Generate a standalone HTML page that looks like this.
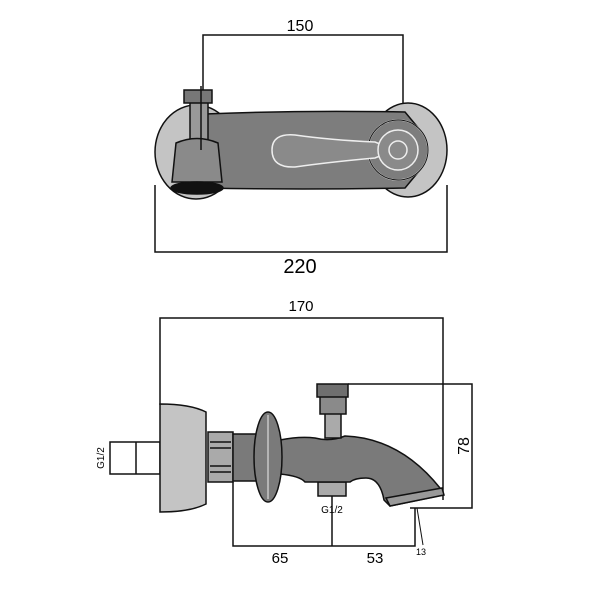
<!DOCTYPE html>
<html><head><style>body{margin:0;background:#fff}svg{display:block}</style></head><body>
<svg width="600" height="600" viewBox="0 0 600 600" xmlns="http://www.w3.org/2000/svg" font-family="Liberation Sans, sans-serif">
<g stroke="#111" stroke-width="1.5" fill="none">
<!-- top view dims -->
<polyline points="203,145 203,35 403,35 403,150"/>
<polyline points="155,185 155,252 447,252 447,185"/>
</g>
<text x="300" y="31" font-size="16" text-anchor="middle">150</text>
<text x="300" y="273" font-size="20" text-anchor="middle">220</text>
<!-- top view -->
<g stroke="#111" stroke-width="1.5">
<ellipse cx="196" cy="152" rx="41" ry="47" fill="#c4c4c4"/>
<ellipse cx="408" cy="150" rx="39" ry="47" fill="#c4c4c4"/>
<path d="M205,114 Q300,110 405,112 L420,130 L420,170 L405,188 Q300,190 205,188 Z" fill="#7d7d7d"/>
<circle cx="398" cy="150" r="30" fill="#7d7d7d" stroke="#eee"/>
<circle cx="398" cy="150" r="30" fill="none" stroke="#111" stroke-width="1"/>
<path d="M272,150 Q272,133 295,135 Q330,140 375,142 L395,150 L375,158 Q330,162 295,167 Q272,168 272,150 Z" fill="#8a8a8a" stroke="#eee"/>
<circle cx="398" cy="150" r="20" fill="#8a8a8a" stroke="#eee"/>
<circle cx="398" cy="150" r="9" fill="#8a8a8a" stroke="#eee"/>
<rect x="190" y="102" width="18" height="38" fill="#999"/>
<rect x="184" y="90" width="28" height="13" fill="#777"/>
<path d="M176,143 Q197,134 218,143 L222,182 L172,182 Z" fill="#8a8a8a"/>
<ellipse cx="197" cy="188" rx="26" ry="6" fill="#111"/>
</g>
<line x1="201" y1="86" x2="201" y2="150" stroke="#111" stroke-width="1.5"/>
<!-- bottom view dims -->
<g stroke="#111" stroke-width="1.5" fill="none">
<polyline points="160,405 160,318 443,318 443,500"/>
<polyline points="348,384 472,384 472,508 410,508"/>
<polyline points="233,482 233,546 415,546 415,508"/>
<line x1="332" y1="495" x2="332" y2="546"/>
<line x1="417" y1="508" x2="423" y2="545" stroke-width="1"/>
</g>
<text x="301" y="311" font-size="15" text-anchor="middle">170</text>
<text x="280" y="563" font-size="15" text-anchor="middle">65</text>
<text x="375" y="563" font-size="15" text-anchor="middle">53</text>
<text x="421" y="555" font-size="9" text-anchor="middle">13</text>
<text x="469" y="446" font-size="16" text-anchor="middle" transform="rotate(-90 469 446)">78</text>
<text x="104" y="458" font-size="10" text-anchor="middle" transform="rotate(-90 104 458)">G1/2</text>
<text x="332" y="513" font-size="10" text-anchor="middle">G1/2</text>
<!-- bottom view shapes -->
<g stroke="#111" stroke-width="1.5">
<rect x="110" y="442" width="50" height="32" fill="#fff"/>
<line x1="136" y1="442" x2="136" y2="474"/>
<path d="M160,404 Q190,404 206,412 L206,504 Q190,512 160,512 Z" fill="#c4c4c4"/>
<rect x="208" y="432" width="25" height="50" fill="#aaa"/>
<line x1="210" y1="442" x2="231" y2="442"/><line x1="210" y1="448" x2="231" y2="448"/>
<line x1="210" y1="466" x2="231" y2="466"/><line x1="210" y1="472" x2="231" y2="472"/>
<rect x="233" y="434" width="24" height="47" fill="#7a7a7a"/>
<rect x="318" y="482" width="28" height="14" fill="#aaa"/>
<path d="M280,440 Q300,436 315,438 Q330,442 345,436 Q400,438 440,488 L443,495 L390,506 L384,500 Q380,478 366,478 Q355,478 350,482 L305,482 Q300,476 280,474 Z" fill="#7a7a7a"/>
<path d="M386,498 L442,488 L444,495 L390,506 Z" fill="#999"/>
<ellipse cx="268" cy="457" rx="14" ry="45" fill="#7a7a7a"/>
<rect x="325" y="413" width="16" height="25" fill="#aaa"/>
<rect x="320" y="396" width="26" height="18" fill="#8a8a8a"/>
<rect x="317" y="384" width="31" height="13" fill="#6f6f6f"/>
</g>
<line x1="268" y1="415" x2="268" y2="499" stroke="#eee" stroke-width="1"/>
</svg>
</body></html>
